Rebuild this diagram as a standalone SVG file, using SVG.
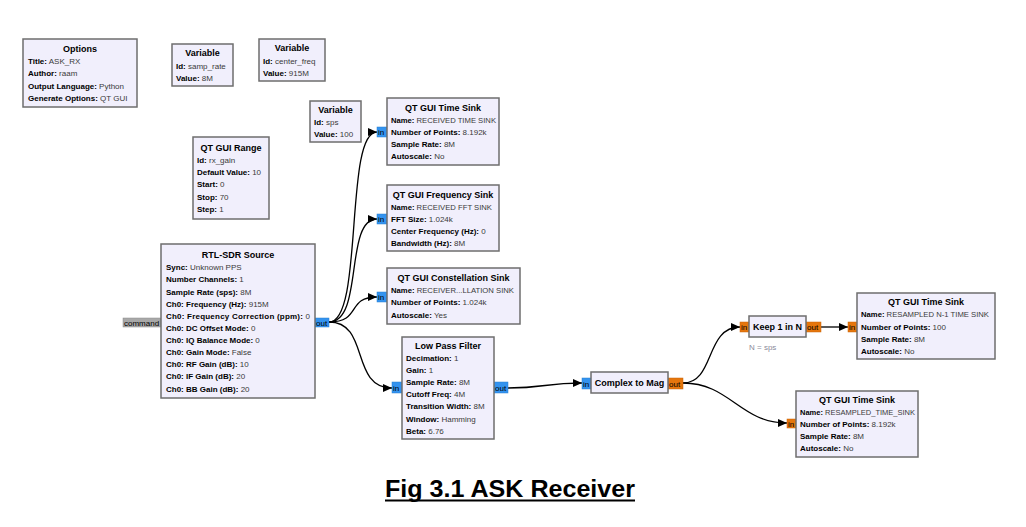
<svg xmlns="http://www.w3.org/2000/svg" width="1026" height="527" viewBox="0 0 1026 527">
<style>
.blk{fill:#f1effc;stroke:#6e6e6e;stroke-width:1.5}
text{font-family:"Liberation Sans",Arial,sans-serif;font-size:8px;fill:#3a3a3a}
.t{font-weight:bold;font-size:9px;fill:#000;text-anchor:middle}
.k{font-weight:bold;fill:#000}
.pb{fill:#3393ef;stroke:#2a7fd0;stroke-width:0.5}
.po{fill:#e5760d;stroke:#c9660a;stroke-width:0.5}
.pt{fill:#000;font-size:8px}
.cap{font-family:"Liberation Sans",Arial,sans-serif;font-size:23.5px;font-weight:bold;fill:#000}
.c{fill:none;stroke:#000;stroke-width:1.3}
</style>
<defs>
<marker id="ah" markerUnits="userSpaceOnUse" markerWidth="9" markerHeight="8" refX="9" refY="4" orient="auto">
<path d="M0,0 L9,4 L0,8 z" fill="#000"/>
</marker>
</defs>
<rect width="1026" height="527" fill="#fff"/>

<g id="connectors">
<path class="c" d="M329,322 C364,322 344,132 377,132" marker-end="url(#ah)"/>
<path class="c" d="M329,322 C364,322 344,219 377,219" marker-end="url(#ah)"/>
<path class="c" d="M329,322 C362,322 346,297 377,297" marker-end="url(#ah)"/>
<path class="c" d="M329,322 C370,322 350,388 392,388" marker-end="url(#ah)"/>
<path class="c" d="M508,388 C545,388 545,383 582,383" marker-end="url(#ah)"/>
<path class="c" d="M683,383 C715,383 705,327 740,327" marker-end="url(#ah)"/>
<path class="c" d="M683,383 C730,383 740,423 787,423" marker-end="url(#ah)"/>
<path class="c" d="M821,327 L848,327" marker-end="url(#ah)"/>
</g>

<g id="options">
<rect class="blk" x="23" y="39" width="114" height="68"/>
<text class="t" x="80" y="52">Options</text>
<text x="28" y="64"><tspan class="k">Title:</tspan> ASK_RX</text>
<text x="28" y="76"><tspan class="k">Author:</tspan> raam</text>
<text x="28" y="89"><tspan class="k">Output Language:</tspan> Python</text>
<text x="28" y="101"><tspan class="k">Generate Options:</tspan> QT GUI</text>
</g>

<g id="var_samp_rate">
<rect class="blk" x="172" y="44" width="61" height="42"/>
<text class="t" x="202.5" y="56">Variable</text>
<text x="176" y="69"><tspan class="k">Id:</tspan> samp_rate</text>
<text x="176" y="81"><tspan class="k">Value:</tspan> 8M</text>
</g>

<g id="var_center_freq">
<rect class="blk" x="259" y="39" width="66" height="42"/>
<text class="t" x="292" y="51">Variable</text>
<text x="263" y="64"><tspan class="k">Id:</tspan> center_freq</text>
<text x="263" y="76"><tspan class="k">Value:</tspan> 915M</text>
</g>

<g id="var_sps">
<rect class="blk" x="310" y="101" width="51" height="41"/>
<text class="t" x="335.5" y="113">Variable</text>
<text x="314" y="125"><tspan class="k">Id:</tspan> sps</text>
<text x="314" y="137"><tspan class="k">Value:</tspan> 100</text>
</g>

<g id="qt_gui_range">
<rect class="blk" x="193" y="137" width="76" height="82"/>
<text class="t" x="231" y="151">QT GUI Range</text>
<text x="197" y="163"><tspan class="k">Id:</tspan> rx_gain</text>
<text x="197" y="175"><tspan class="k">Default Value:</tspan> 10</text>
<text x="197" y="187"><tspan class="k">Start:</tspan> 0</text>
<text x="197" y="200"><tspan class="k">Stop:</tspan> 70</text>
<text x="197" y="212"><tspan class="k">Step:</tspan> 1</text>
</g>

<g id="rtl_sdr_source">
<rect x="123" y="318" width="38" height="9" fill="#a8a8a8" stroke="#8a8a8a" stroke-width="0.5"/>
<text class="pt" x="124" y="325.5">command</text>
<rect class="pb" x="315" y="318" width="14" height="9"/>
<text class="pt" x="316" y="325.5">out</text>
<rect class="blk" x="161" y="244" width="154" height="154"/>
<text class="t" x="238" y="258">RTL-SDR Source</text>
<text x="166" y="270"><tspan class="k">Sync:</tspan> Unknown PPS</text>
<text x="166" y="282"><tspan class="k">Number Channels:</tspan> 1</text>
<text x="166" y="295"><tspan class="k">Sample Rate (sps):</tspan> 8M</text>
<text x="166" y="307"><tspan class="k">Ch0: Frequency (Hz):</tspan> 915M</text>
<text x="166" y="319" textLength="144" lengthAdjust="spacing"><tspan class="k">Ch0: Frequency Correction (ppm):</tspan> 0</text>
<text x="166" y="331"><tspan class="k">Ch0: DC Offset Mode:</tspan> 0</text>
<text x="166" y="343"><tspan class="k">Ch0: IQ Balance Mode:</tspan> 0</text>
<text x="166" y="355"><tspan class="k">Ch0: Gain Mode:</tspan> False</text>
<text x="166" y="367"><tspan class="k">Ch0: RF Gain (dB):</tspan> 10</text>
<text x="166" y="379"><tspan class="k">Ch0: IF Gain (dB):</tspan> 20</text>
<text x="166" y="392"><tspan class="k">Ch0: BB Gain (dB):</tspan> 20</text>
</g>

<g id="time_sink_received">
<rect class="pb" x="377" y="127" width="10" height="10"/>
<text class="pt" x="378" y="135">in</text>
<rect class="blk" x="387" y="98" width="112" height="67"/>
<text class="t" x="443" y="111">QT GUI Time Sink</text>
<text x="391" y="123" textLength="105" lengthAdjust="spacingAndGlyphs"><tspan class="k">Name:</tspan> RECEIVED TIME SINK</text>
<text x="391" y="135"><tspan class="k">Number of Points:</tspan> 8.192k</text>
<text x="391" y="147"><tspan class="k">Sample Rate:</tspan> 8M</text>
<text x="391" y="159"><tspan class="k">Autoscale:</tspan> No</text>
</g>

<g id="freq_sink">
<rect class="pb" x="377" y="214" width="10" height="10"/>
<text class="pt" x="378" y="222">in</text>
<rect class="blk" x="387" y="185" width="112" height="66"/>
<text class="t" x="443" y="198">QT GUI Frequency Sink</text>
<text x="391" y="210" textLength="101" lengthAdjust="spacingAndGlyphs"><tspan class="k">Name:</tspan> RECEIVED FFT SINK</text>
<text x="391" y="222"><tspan class="k">FFT Size:</tspan> 1.024k</text>
<text x="391" y="234"><tspan class="k">Center Frequency (Hz):</tspan> 0</text>
<text x="391" y="246"><tspan class="k">Bandwidth (Hz):</tspan> 8M</text>
</g>

<g id="constellation_sink">
<rect class="pb" x="377" y="292" width="10" height="10"/>
<text class="pt" x="378" y="300">in</text>
<rect class="blk" x="387" y="268" width="133" height="56"/>
<text class="t" x="453.5" y="281">QT GUI Constellation Sink</text>
<text x="391" y="293" textLength="123" lengthAdjust="spacingAndGlyphs"><tspan class="k">Name:</tspan> RECEIVER...LLATION SINK</text>
<text x="391" y="305"><tspan class="k">Number of Points:</tspan> 1.024k</text>
<text x="391" y="318"><tspan class="k">Autoscale:</tspan> Yes</text>
</g>

<g id="low_pass_filter">
<rect class="pb" x="392" y="382" width="10" height="11"/>
<text class="pt" x="393" y="391">in</text>
<rect class="pb" x="494" y="382" width="14" height="11"/>
<text class="pt" x="495" y="391">out</text>
<rect class="blk" x="402" y="337" width="92" height="102"/>
<text class="t" x="448" y="349">Low Pass Filter</text>
<text x="406" y="361"><tspan class="k">Decimation:</tspan> 1</text>
<text x="406" y="373"><tspan class="k">Gain:</tspan> 1</text>
<text x="406" y="385"><tspan class="k">Sample Rate:</tspan> 8M</text>
<text x="406" y="397"><tspan class="k">Cutoff Freq:</tspan> 4M</text>
<text x="406" y="409"><tspan class="k">Transition Width:</tspan> 8M</text>
<text x="406" y="422"><tspan class="k">Window:</tspan> Hamming</text>
<text x="406" y="434"><tspan class="k">Beta:</tspan> 6.76</text>
</g>

<g id="complex_to_mag">
<rect class="pb" x="582" y="378" width="9" height="11"/>
<text class="pt" x="583" y="387">in</text>
<rect class="po" x="668" y="378" width="15" height="11"/>
<text class="pt" x="669" y="387">out</text>
<rect class="blk" x="591" y="372" width="77" height="21"/>
<text class="t" x="629.5" y="386">Complex to Mag</text>
</g>

<g id="keep_1_in_n">
<rect class="po" x="740" y="322" width="9" height="10"/>
<text class="pt" x="741" y="330">in</text>
<rect class="po" x="806" y="322" width="15" height="10"/>
<text class="pt" x="807" y="330">out</text>
<rect class="blk" x="749" y="316" width="57" height="21"/>
<text class="t" x="777.5" y="330">Keep 1 in N</text>
<text x="749" y="350" style="fill:#8a8a9a">N = sps</text>
</g>

<g id="time_sink_n1">
<rect class="po" x="848" y="322" width="9" height="10"/>
<text class="pt" x="849" y="330">in</text>
<rect class="blk" x="857" y="293" width="138" height="66"/>
<text class="t" x="926" y="305">QT GUI Time Sink</text>
<text x="861" y="317" textLength="128" lengthAdjust="spacingAndGlyphs"><tspan class="k">Name:</tspan> RESAMPLED N-1 TIME SINK</text>
<text x="861" y="330"><tspan class="k">Number of Points:</tspan> 100</text>
<text x="861" y="342"><tspan class="k">Sample Rate:</tspan> 8M</text>
<text x="861" y="354"><tspan class="k">Autoscale:</tspan> No</text>
</g>

<g id="time_sink_resampled">
<rect class="po" x="787" y="419" width="9" height="9"/>
<text class="pt" x="788" y="426.5">in</text>
<rect class="blk" x="796" y="391" width="122" height="66"/>
<text class="t" x="857" y="403">QT GUI Time Sink</text>
<text x="800" y="415" textLength="115" lengthAdjust="spacingAndGlyphs"><tspan class="k">Name:</tspan> RESAMPLED_TIME_SINK</text>
<text x="800" y="427"><tspan class="k">Number of Points:</tspan> 8.192k</text>
<text x="800" y="439"><tspan class="k">Sample Rate:</tspan> 8M</text>
<text x="800" y="451"><tspan class="k">Autoscale:</tspan> No</text>
</g>

<g id="caption">
<text class="cap" x="385" y="497" textLength="250" lengthAdjust="spacingAndGlyphs">Fig 3.1 ASK Receiver</text>
<rect x="385" y="499.5" width="250" height="2" fill="#000"/>
</g>
</svg>
